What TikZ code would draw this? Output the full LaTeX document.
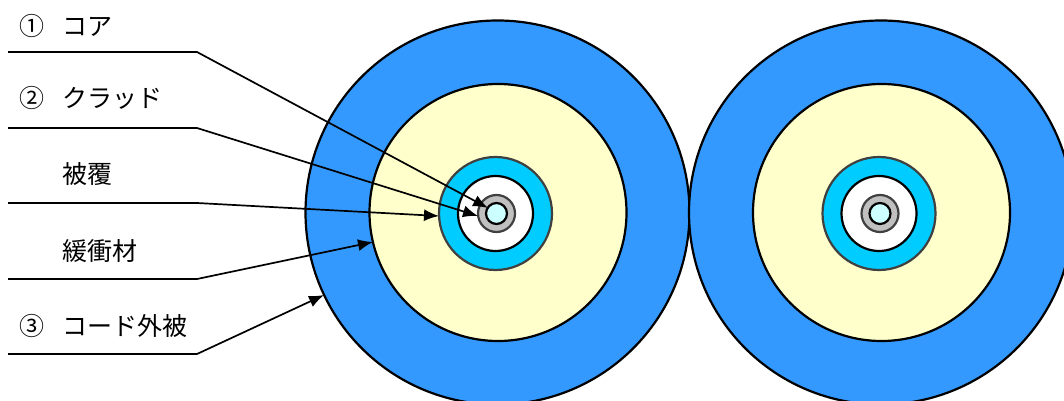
\documentclass[tikz,border=0pt]{standalone}
\usepackage{fontspec}
\setmainfont{Noto Sans CJK JP}
\usetikzlibrary{arrows.meta}
\definecolor{jacket}{HTML}{3399FF}
\definecolor{buffer}{HTML}{FFFFCC}
\definecolor{coat}{HTML}{00CCFF}
\definecolor{clad}{HTML}{C0C0C0}
\definecolor{corefill}{HTML}{CCFFFF}
\tikzset{
  x=1pt,y=-1pt,
  ring/.style={circle,draw=black,line width=2.2pt,inner sep=0pt,outer sep=0pt,minimum size=#1*2pt},
  coatring/.style={ring=#1,draw=black!75!white},
  lbl/.style={anchor=base west,inner sep=0pt,font=\fontsize{25}{25}\selectfont},
  leader/.style={draw=black,line width=1.7pt,-{Latex[length=15pt,width=12pt]}}
}
\newcommand{\cable}[3]{%
  \node[ring=192,fill=jacket] (#3o) at (#1,#2) {};
  \node[ring=128.5,fill=buffer] (#3b) at (#1+0.5,#2) {};
  \node[coatring=56.5,fill=coat] (#3c) at (#1-2,#2+1) {};
  \node[ring=37.5,fill=white] (#3w) at (#1-2,#2+1) {};
  \node[coatring=18.5,fill=clad] (#3g) at (#1-1,#2+1) {};
  \node[ring=10.5,fill=corefill] (#3k) at (#1-1,#2+1) {};
}
\begin{document}
\begin{tikzpicture}
\useasboundingbox (0,0) rectangle (1064,401);
\clip (0,0) rectangle (1064,401);
\cable{497.5}{212.5}{l}
\cable{881}{212.5}{r}
\coordinate (s1) at (8,52);   \coordinate (k1) at (197,52);  \coordinate (t1) at (488,208);
\coordinate (s2) at (8,128);  \coordinate (k2) at (197,128); \coordinate (t2) at (478,216);
\coordinate (s3) at (8,203);  \coordinate (k3) at (197,203); \coordinate (t3) at (439,216);
\coordinate (s4) at (8,279);  \coordinate (k4) at (197,279); \coordinate (t4) at (373,242);
\coordinate (s5) at (8,354);  \coordinate (k5) at (197,354); \coordinate (t5) at (324,295);
\foreach \i in {1,...,5}{\draw[leader] (s\i) -- (k\i) -- (t\i);}
\node[lbl] (n1) at (19,36) {①};
\node[lbl] (a1) at (62,36) {コア};
\node[lbl] (n2) at (19,107) {②};
\node[lbl] (a2) at (62,107) {クラッド};
\node[lbl] (a3) at (62,183) {被覆};
\node[lbl] (a4) at (62,260) {緩衝材};
\node[lbl] (n3) at (19,335) {③};
\node[lbl] (a5) at (62,335) {コード外被};
\end{tikzpicture}
\end{document}
